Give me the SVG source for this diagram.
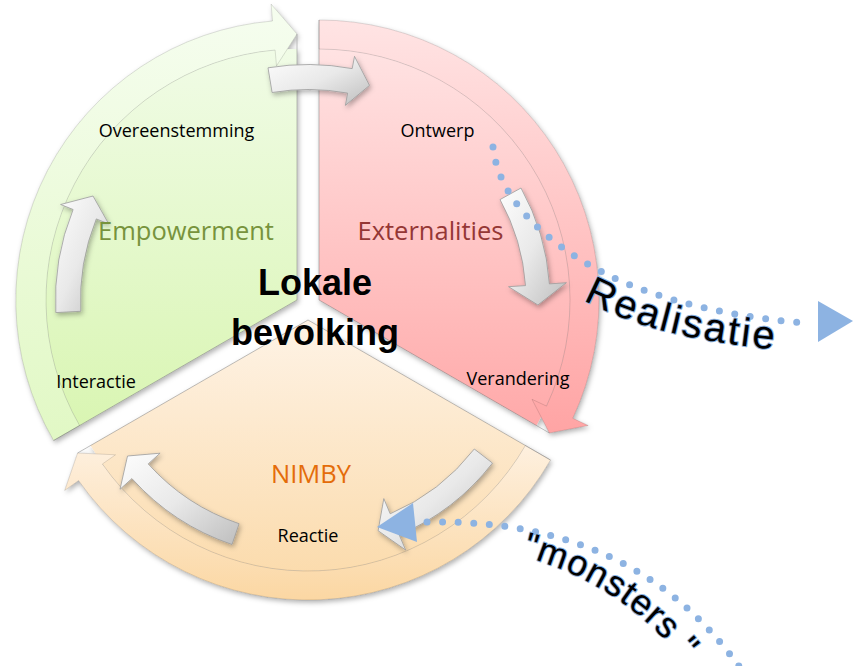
<svg xmlns="http://www.w3.org/2000/svg" width="853" height="666" viewBox="0 0 853 666">
<defs>
  <linearGradient id="gPie" gradientUnits="userSpaceOnUse" x1="0" y1="20" x2="0" y2="445">
    <stop offset="0" stop-color="#F2FCEA"/><stop offset="1" stop-color="#D8F5B0"/>
  </linearGradient>
  <linearGradient id="gBand" gradientUnits="userSpaceOnUse" x1="0" y1="20" x2="0" y2="445">
    <stop offset="0" stop-color="#F5FDEE"/><stop offset="1" stop-color="#E1F8C4"/>
  </linearGradient>
  <linearGradient id="rPie" gradientUnits="userSpaceOnUse" x1="0" y1="20" x2="0" y2="440">
    <stop offset="0" stop-color="#FFE7E7"/><stop offset="1" stop-color="#FFA7A7"/>
  </linearGradient>
  <linearGradient id="rBand" gradientUnits="userSpaceOnUse" x1="0" y1="20" x2="0" y2="440">
    <stop offset="0" stop-color="#FFE4E4"/><stop offset="1" stop-color="#FFA3A3"/>
  </linearGradient>
  <linearGradient id="oPie" gradientUnits="userSpaceOnUse" x1="0" y1="320" x2="0" y2="600">
    <stop offset="0" stop-color="#FEF3E6"/><stop offset="1" stop-color="#FBD9A7"/>
  </linearGradient>
  <linearGradient id="oBand" gradientUnits="userSpaceOnUse" x1="0" y1="440" x2="0" y2="600">
    <stop offset="0" stop-color="#FEF1E1"/><stop offset="1" stop-color="#FBD7A3"/>
  </linearGradient>
  <linearGradient id="gray" x1="0" y1="0" x2="1" y2="1">
    <stop offset="0" stop-color="#FDFDFD"/><stop offset="0.5" stop-color="#E9E9E9"/><stop offset="1" stop-color="#BEBEBE"/>
  </linearGradient>
  <filter id="sh" x="-10%" y="-10%" width="125%" height="125%">
    <feDropShadow dx="1.5" dy="2.5" stdDeviation="2.5" flood-color="#000" flood-opacity="0.3"/>
  </filter>
  <path id="pR" d="M583,300 C 640,330 700,342 780,350"/>
  <path id="pM" d="M522,556 C 565,568 635,595 688,668"/>
  <style>
    .lbl{font-family:"Open Sans","Liberation Sans",sans-serif;font-size:18px;fill:#000;text-anchor:middle}
    .ttl{font-size:25.5px}
    .center{font-family:"Liberation Sans",Arial,sans-serif;font-weight:bold;font-size:36px;fill:#000;text-anchor:middle}
    .edge{fill:none;stroke:#6F6F6F;stroke-opacity:0.45;stroke-width:1}
    .bandln{stroke:#000;stroke-opacity:0.12;stroke-width:1}
    .grayarrow{fill:url(#gray);stroke:#9C9C9C;stroke-width:0.8;filter:url(#sh)}
    .dots{fill:none;stroke:#8DB3E2;stroke-width:7;stroke-linecap:round;stroke-dasharray:0 15.6}
    .tri{fill:#8DB3E2}
    .wa{font-family:"Liberation Sans",Arial,sans-serif;fill:#000;stroke:#8DB3E2;stroke-width:2;paint-order:stroke;stroke-linejoin:round}
  </style>
</defs>

<g id="sector-empowerment" filter="url(#sh)">
  <path d="M297,300 L79.6,425.5 A251,251 0 0 1 297,49 Z" fill="url(#gPie)"/>
  <path class="bandln" d="M53.6,440.5 A280,280 0 0 1 272.5,21 L271.1,4.1 L297,34 L276.5,65.9 L275.1,50 A251,251 0 0 0 79.6,425.5 Z" fill="url(#gBand)"/>
  <path class="edge" d="M297,34 L297,300 L53.6,440.5"/>
</g>

<g id="sector-externalities" filter="url(#sh)">
  <path d="M319,300 L319,49 A251,251 0 0 1 536.4,425.5 Z" fill="url(#rPie)"/>
  <path class="bandln" d="M319,20 A280,280 0 0 1 572.8,418.3 L588.2,425.5 L549.4,433 L532,399.3 L546.5,406.1 A251,251 0 0 0 319,49 Z" fill="url(#rBand)"/>
  <path class="edge" d="M319,20 L319,300 L549.4,433"/>
</g>

<g id="sector-nimby" filter="url(#sh)">
  <path d="M308,320 L525.4,445.5 A251,251 0 0 1 90.6,445.5 Z" fill="url(#oPie)"/>
  <path class="bandln" d="M550.5,460 A280,280 0 0 1 78.6,480.6 L64.7,490.4 L77.6,453 L115.5,454.8 L102.4,464 A251,251 0 0 0 525.4,445.5 Z" fill="url(#oBand)"/>
  <path class="edge" d="M550.5,460 L308,320 L77.6,453"/>
</g>

<g id="connectors">
  <path class="grayarrow" d="M268,67.8 A242.5,242.5 0 0 1 352.2,68.6 L354.5,56.3 L369.5,85.4 L345.4,105.4 L347.6,93.1 A217.5,217.5 0 0 0 272.1,92.5 Z"/>
  <path class="grayarrow" d="M55.8,312.6 A241.5,241.5 0 0 1 73.1,209.5 L60.6,204.5 L93,196 L108.8,224 L96.3,218.9 A216.5,216.5 0 0 0 80.8,311.3 Z"/>
  <path class="grayarrow" d="M521,188 A231,231 0 0 1 549.4,283.9 L566.4,282.7 L537.9,305 L508.5,286.7 L525.5,285.6 A207,207 0 0 0 500,199.6 Z"/>
  <path class="grayarrow" d="M492.5,463.1 A233.5,233.5 0 0 1 399.2,534.9 L405.7,550.1 L378.1,530.7 L383.8,498.6 L390.2,513.8 A210.5,210.5 0 0 0 474.3,449 Z"/>
  <path class="grayarrow" d="M232,544.5 A237,237 0 0 1 131.9,478.6 L120,489.3 L127.5,456 L160.1,453.2 L148.2,463.9 A215,215 0 0 0 239.1,523.7 Z"/>
</g>

<g id="labels">
  <text class="lbl" x="176.5" y="137">Overeenstemming</text>
  <text class="lbl" x="437.5" y="137">Ontwerp</text>
  <text class="lbl ttl" x="186" y="240" style="fill:#77933C">Empowerment</text>
  <text class="lbl ttl" x="430.5" y="240" style="fill:#953735">Externalities</text>
  <text class="lbl" x="96" y="388">Interactie</text>
  <text class="lbl" x="518" y="385">Verandering</text>
  <text class="lbl ttl" x="311" y="483" style="fill:#E46C0A">NIMBY</text>
  <text class="lbl" x="308" y="542">Reactie</text>
</g>

<g id="center">
  <text class="center" x="315" y="295">Lokale</text>
  <text class="center" x="315" y="345">bevolking</text>
</g>

<g id="realisatie">
  <path class="dots" d="M493,147 C 498,195 540,240 604,273 C 660,302 740,318 806,323"/>
  <polygon class="tri" points="818,301 853,321 818,342"/>
  <text class="wa" font-size="40" letter-spacing="2.5"><textPath href="#pR">Realisatie</textPath></text>
</g>

<g id="monsters">
  <path class="dots" d="M427,522 C 540,520 660,550 745,675"/>
  <polygon class="tri" points="377,527 413,503 417,542"/>
  <text class="wa" font-size="36" letter-spacing="1"><textPath href="#pM">"monsters "</textPath></text>
</g>
</svg>
